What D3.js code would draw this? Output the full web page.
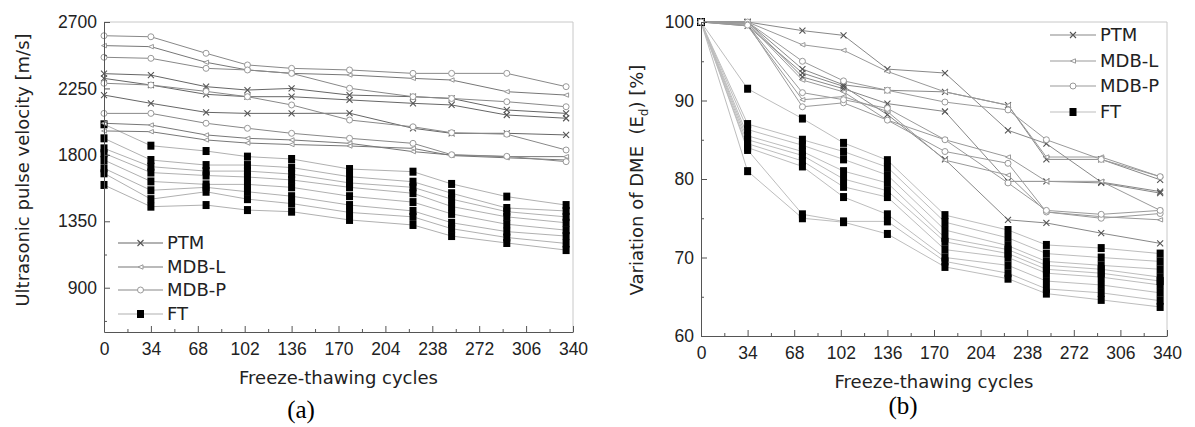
<!DOCTYPE html>
<html>
<head>
<meta charset="utf-8">
<script src="https://cdn.jsdelivr.net/npm/d3@7"></script>
<style>
  body { margin: 0; background: #fff; }
  svg { font-family: "DejaVu Sans", sans-serif; }
  .axis text { font-size: 17.5px; fill: #222; }
  .axis path, .axis line { stroke: #555; }
</style>
</head>
<body>
<script>
// freeze-thaw cycles at which both panels were measured
const cycles = [0, 34, 74, 104, 136, 178, 224, 252, 292, 335];
const xTicks = [0, 34, 68, 102, 136, 170, 204, 238, 272, 306, 340];
const xMinor = [17, 51, 85, 119, 153, 187, 221, 255, 289, 323];
const upvTicks = [900, 1350, 1800, 2250, 2700];
const upvMinor = [675, 1125, 1575, 2025, 2475];
const dmeTicks = [60, 70, 80, 90, 100];
const dmeMinor = [65, 75, 85, 95];
const groupNames = ["PTM", "MDB-L", "MDB-P", "FT"];

// (a) ultrasonic pulse velocity [m/s]
const upvPTM = [
  [2350, 2340, 2262, 2239, 2250, 2205, 2194, 2182, 2104, 2081],
  [2318, 2273, 2210, 2194, 2194, 2172, 2149, 2138, 2070, 2048],
  [2205, 2149, 2088, 2081, 2081, 2082, 1980, 1946, 1946, 1935]
];
const upvMDBL = [
  [2540, 2533, 2427, 2375, 2352, 2341, 2318, 2307, 2228, 2205],
  [2014, 2002, 1935, 1912, 1901, 1878, 1822, 1799, 1788, 1788],
  [1962, 1957, 1901, 1880, 1870, 1860, 1844, 1795, 1780, 1765]
];
const upvMDBP = [
  [2607, 2600, 2488, 2409, 2386, 2375, 2352, 2352, 2352, 2262],
  [2461, 2454, 2386, 2375, 2352, 2251, 2194, 2182, 2160, 2126],
  [2285, 2273, 2230, 2194, 2138, 2036, 1990, 1950, 1940, 1833],
  [2081, 2081, 2014, 1980, 1946, 1912, 1878, 1801, 1790, 1754]
];
const upvFT = [
  [2007, 1862, 1826, 1788, 1772, 1704, 1686, 1603, 1517, 1460],
  [1912, 1765, 1731, 1731, 1714, 1652, 1618, 1540, 1440, 1420],
  [1844, 1720, 1690, 1690, 1670, 1610, 1580, 1500, 1415, 1380],
  [1811, 1680, 1660, 1650, 1630, 1580, 1540, 1450, 1380, 1340],
  [1765, 1620, 1600, 1600, 1580, 1520, 1480, 1400, 1330, 1290],
  [1709, 1560, 1580, 1550, 1520, 1460, 1420, 1340, 1280, 1250],
  [1675, 1500, 1550, 1500, 1470, 1410, 1380, 1300, 1240, 1200],
  [1596, 1449, 1460, 1426, 1415, 1359, 1325, 1250, 1203, 1155]
];

// (b) variation of dynamic modulus of elasticity [%]
const dmePTM = [
  [100, 100, 98.9, 98.3, 94.0, 93.5, 86.2, 84.5, 79.6, 78.4],
  [100, 100, 94.0, 92.0, 91.3, 91.1, 89.4, 82.5, 82.5, 79.9],
  [100, 100, 93.0, 91.5, 89.6, 88.6, 79.7, 79.7, 79.5, 78.2],
  [100, 99.5, 93.5, 91.8, 88.2, 82.5, 74.8, 74.4, 73.1, 71.8]
];
const dmeMDBL = [
  [100, 100, 97.1, 96.4, 93.7, 91.1, 89.4, 82.8, 82.8, 80.3],
  [100, 99.8, 92.6, 91.1, 87.5, 85.0, 82.8, 79.7, 79.7, 76.0],
  [100, 99.5, 90.1, 90.5, 88.6, 82.4, 80.5, 75.8, 75.2, 74.8]
];
const dmeMDBP = [
  [100, 100, 95.0, 92.5, 91.3, 89.8, 88.8, 85.0, 82.5, 80.3],
  [100, 99.7, 89.2, 89.7, 87.5, 83.5, 82.0, 75.8, 75.0, 75.6],
  [100, 99.6, 91.0, 90.1, 89.0, 85.0, 79.5, 76.0, 75.5, 76.0]
];
const dmeFT = [
  [100, 91.5, 87.7, 84.6, 82.4, 75.4, 73.5, 71.6, 71.2, 70.5],
  [100, 87.0, 85.0, 83.5, 81.5, 74.5, 72.5, 70.5, 70.0, 69.5],
  [100, 86.3, 84.3, 82.5, 80.5, 73.5, 71.5, 69.5, 69.0, 68.5],
  [100, 85.5, 83.5, 81.0, 79.5, 72.5, 71.0, 69.0, 68.5, 67.5],
  [100, 85.0, 83.0, 80.0, 78.5, 72.0, 70.5, 68.5, 68.0, 67.0],
  [100, 84.5, 82.3, 79.0, 77.7, 71.0, 70.0, 68.0, 67.5, 66.5],
  [100, 84.0, 81.6, 77.7, 75.5, 70.0, 69.0, 67.0, 66.5, 65.5],
  [100, 83.7, 75.5, 74.6, 74.6, 69.5, 68.0, 66.0, 65.5, 64.5],
  [100, 81.0, 75.0, 74.5, 73.0, 68.8, 67.3, 65.4, 64.6, 63.7]
];

const svg = d3.select("body").append("svg")
  .attr("width", 1195)
  .attr("height", 427);

// marker drawing per group
function drawMarker(sel, name) {
  if (name === "PTM") {
    sel.append("path").attr("d", "M-3,-3L3,3M-3,3L3,-3")
      .attr("stroke", "#555").attr("stroke-width", 1.1).attr("fill", "none");
  } else if (name === "MDB-L") {
    sel.append("path").attr("d", "M2.5,-2.2L-2.5,0L2.5,2.2Z")
      .attr("stroke", "#999").attr("stroke-width", 1).attr("fill", "#fff");
  } else if (name === "MDB-P") {
    sel.append("circle").attr("r", 3)
      .attr("stroke", "#999").attr("stroke-width", 1).attr("fill", "#fff");
  } else {
    sel.append("rect").attr("x", -3.5).attr("y", -4).attr("width", 7).attr("height", 8)
      .attr("fill", "#000");
  }
}

function drawPanel(x, y, yTicks, yMinor, groups, lineColors, legend) {
  const g = svg.append("g");
  const [y0, y1] = y.range();

  // light frame on top and right
  g.append("path")
    .attr("d", `M${x(0)},${y1}H${x(340)}V${y0}`)
    .attr("stroke", "#c8c8c8").attr("fill", "none");

  // series lines
  const line = d3.line().x((d, i) => x(cycles[i])).y(d => y(d));
  [3, 0, 1, 2].forEach(k => {
    g.append("g").selectAll("path")
      .data(groups[k])
      .join("path")
      .attr("d", line)
      .attr("fill", "none")
      .attr("stroke", lineColors[k])
      .attr("stroke-width", 1);
  });
  // markers
  [3, 0, 1, 2].forEach(k => {
    groups[k].forEach(series => {
      series.forEach((v, i) => {
        const m = g.append("g").attr("transform", `translate(${x(cycles[i])},${y(v)})`);
        drawMarker(m, groupNames[k]);
      });
    });
  });

  // axes with inward ticks
  g.append("g").attr("class", "axis")
    .attr("transform", `translate(0,${y0})`)
    .call(d3.axisBottom(x).tickValues(xMinor).tickSize(-3).tickSizeOuter(0).tickFormat(""))
    .select(".domain").remove();
  g.append("g").attr("class", "axis")
    .attr("transform", `translate(0,${y0})`)
    .call(d3.axisBottom(x).tickValues(xTicks).tickSize(-6).tickSizeOuter(0).tickPadding(11));
  g.append("g").attr("class", "axis")
    .attr("transform", `translate(${x(0)},0)`)
    .call(d3.axisLeft(y).tickValues(yMinor).tickSize(-3).tickSizeOuter(0).tickFormat(""))
    .select(".domain").remove();
  g.append("g").attr("class", "axis")
    .attr("transform", `translate(${x(0)},0)`)
    .call(d3.axisLeft(y).tickValues(yTicks).tickSize(-6).tickSizeOuter(0).tickPadding(7)
      .tickFormat(d3.format("d")));

  // legend
  legend.rows.forEach((ry, k) => {
    const lg = g.append("g").attr("transform", `translate(${legend.x},${ry})`);
    lg.append("line").attr("x1", 0).attr("x2", legend.len)
      .attr("stroke", lineColors[k]).attr("stroke-width", 1.2);
    drawMarker(lg.append("g").attr("transform", `translate(${legend.len / 2},0)`), groupNames[k]);
    lg.append("text").attr("x", legend.len + 4).attr("dy", "0.36em")
      .style("font-size", "18px").attr("fill", "#222")
      .text(groupNames[k]);
  });

  // x title
  g.append("text")
    .attr("x", (x(0) + x(340)) / 2).attr("y", y0 + 52)
    .attr("text-anchor", "middle").style("font-size", "18px").attr("fill", "#222")
    .text("Freeze-thawing cycles");
  return g;
}

const xa = d3.scaleLinear().domain([0, 340]).range([104, 573]);
const ya = d3.scaleLinear().domain([600, 2700]).range([332, 22]);
const xb = d3.scaleLinear().domain([0, 340]).range([701, 1167]);
const yb = d3.scaleLinear().domain([60, 100]).range([336, 22]);

const pa = drawPanel(xa, ya, upvTicks, upvMinor,
  [upvPTM, upvMDBL, upvMDBP, upvFT],
  ["#666", "#777", "#888", "#b0b0b0"],
  { x: 118, len: 45, rows: [243, 267, 290, 314] });

const pb = drawPanel(xb, yb, dmeTicks, dmeMinor,
  [dmePTM, dmeMDBL, dmeMDBP, dmeFT],
  ["#888", "#999", "#9a9a9a", "#bdbdbd"],
  { x: 1050, len: 46, rows: [35, 61, 86, 112] });

// y titles
pa.append("text")
  .attr("transform", "translate(29,170) rotate(-90)")
  .attr("text-anchor", "middle").style("font-size", "18px").attr("fill", "#222")
  .text("Ultrasonic pulse velocity [m/s]");

const tb = pb.append("text")
  .attr("transform", "translate(643,180) rotate(-90)")
  .attr("text-anchor", "middle").style("font-size", "18px").attr("fill", "#222")
  .style("white-space", "pre");
tb.append("tspan").text("Variation of DME  (E");
tb.append("tspan").attr("dy", 5).style("font-size", "12px").text("d");
tb.append("tspan").attr("dy", -5).text(") [%]");

// panel captions
svg.append("text").attr("x", 301).attr("y", 418)
  .attr("text-anchor", "middle")
  .style("font-family", "'Liberation Serif', serif").style("font-size", "25px")
  .text("(a)");
svg.append("text").attr("x", 903).attr("y", 414)
  .attr("text-anchor", "middle")
  .style("font-family", "'Liberation Serif', serif").style("font-size", "25px")
  .text("(b)");
</script>
</body>
</html>
